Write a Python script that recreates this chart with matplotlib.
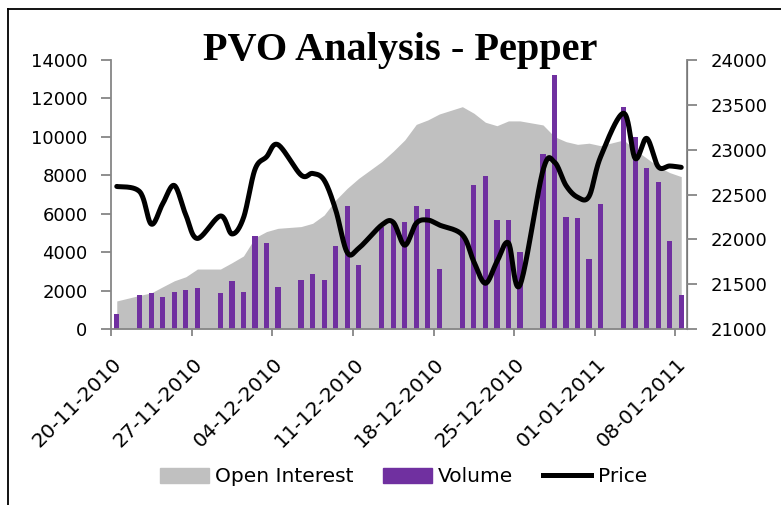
import numpy as np
import pandas as pd
import matplotlib
matplotlib.use("Agg")
import matplotlib.pyplot as plt
import matplotlib.dates as mdates
import matplotlib.transforms as mtransforms
from matplotlib.lines import Line2D
from matplotlib.patches import Patch

# trading days (no Sundays)
dates = pd.to_datetime([
    "20-11-2010", "22-11-2010", "23-11-2010", "24-11-2010", "25-11-2010", "26-11-2010", "27-11-2010",
    "29-11-2010", "30-11-2010", "01-12-2010", "02-12-2010", "03-12-2010", "04-12-2010",
    "06-12-2010", "07-12-2010", "08-12-2010", "09-12-2010", "10-12-2010", "11-12-2010",
    "13-12-2010", "14-12-2010", "15-12-2010", "16-12-2010", "17-12-2010", "18-12-2010",
    "20-12-2010", "21-12-2010", "22-12-2010", "23-12-2010", "24-12-2010", "25-12-2010",
    "27-12-2010", "28-12-2010", "29-12-2010", "30-12-2010", "31-12-2010", "01-01-2011",
    "03-01-2011", "04-01-2011", "05-01-2011", "06-01-2011", "07-01-2011", "08-01-2011",
], format="%d-%m-%Y")

volume = [780, 1770, 1860, 1680, 1940, 2030, 2140,
          1860, 2480, 1940, 4840, 4480, 2200,
          2570, 2860, 2570, 4320, 6400, 3310,
          5300, 5550, 5590, 6400, 6230, 3120,
          4900, 7500, 7950, 5670, 5670, 4020,
          9110, 13220, 5850, 5760, 3660, 6490,
          11570, 10010, 8400, 7650, 4580, 1750]

open_interest = [1460, 1750, 1880, 2200, 2510, 2720, 3120,
                 3120, 3450, 3800, 4750, 5070, 5240,
                 5330, 5500, 5930, 6710, 7320, 7840,
                 8710, 9250, 9840, 10650, 10880, 11190,
                 11570, 11230, 10760, 10580, 10830, 10830,
                 10620, 10010, 9750, 9610, 9670, 9540,
                 9840, 9320, 8890, 8450, 8140, 7930]

price = [22590, 22530, 22170, 22400, 22600, 22270, 22010,
         22260, 22060, 22240, 22780, 22920, 23055,
         22717, 22735, 22660, 22330, 21855, 21900,
         22160, 22190, 21935, 22180, 22215, 22160,
         22050, 21750, 21510, 21750, 21960, 21490,
         22770, 22860, 22600, 22470, 22480, 22920,
         23406, 22903, 23126, 22810, 22818, 22803]


def smooth(x, y, sx=11.5, sy=0.0897, n=24):
    # Excel-like smoothed line (Catmull-Rom bezier in screen-ish units)
    P = np.column_stack([np.asarray(x) * sx, np.asarray(y) * sy])
    out = [P[:1]]
    t = np.linspace(0, 1, n)[1:, None]
    for i in range(len(P) - 1):
        p0 = P[max(i - 1, 0)]
        p1, p2 = P[i], P[i + 1]
        p3 = P[min(i + 2, len(P) - 1)]
        c1 = p1 + (p2 - p0) / 6
        c2 = p2 - (p3 - p1) / 6
        seg = (1 - t) ** 3 * p1 + 3 * (1 - t) ** 2 * t * c1 + 3 * (1 - t) * t ** 2 * c2 + t ** 3 * p2
        out.append(seg)
    out = np.vstack(out)
    return out[:, 0] / sx, out[:, 1] / sy


grey = "#868686"
fig = plt.figure(figsize=(7.81, 5.05), dpi=100)
ax = fig.add_axes([111 / 781, 1 - 329 / 505, 576 / 781, 269 / 505])
ax2 = ax.twinx()

x = mdates.date2num(dates) + 0.5
ax.fill_between(x, open_interest, color="#C0C0C0", lw=0)
ax.bar(x, volume, width=0.45, color="#7030A0")
xs, ys = smooth(x, price)
ax2.plot(xs, ys, color="black", lw=3.6, solid_capstyle="round")

start = mdates.date2num(pd.Timestamp("2010-11-20"))
ax.set_xlim(start, start + 50)
ax.set_ylim(0, 14000)
ax.set_yticks(range(0, 14001, 2000))
ax2.set_ylim(21000, 24000)
ax2.set_yticks(range(21000, 24001, 500))

ticks = start + np.arange(0, 50, 7)
ax.set_xticks(ticks)
ax.set_xticklabels([mdates.num2date(t).strftime("%d-%m-%Y") for t in ticks])

for a in (ax, ax2):
    a.spines["top"].set_visible(False)
ax2.spines["left"].set_visible(False)
ax2.spines["bottom"].set_visible(False)
for s in ("left", "bottom"):
    ax.spines[s].set_color(grey)
    ax.spines[s].set_linewidth(1.3)
ax2.spines["right"].set_color(grey)
ax2.spines["right"].set_linewidth(1.3)

ax.tick_params(axis="y", direction="out", length=7, width=1.3, color=grey, labelsize=13, pad=10)
ax2.tick_params(axis="y", direction="out", length=7, width=1.3, color=grey, labelsize=13, pad=10)
ax.tick_params(axis="x", direction="out", length=5, width=1.3, color=grey, labelsize=14.5, pad=13)

offset = mtransforms.ScaledTranslation(0.01, 0, fig.dpi_scale_trans)
for lbl in ax.get_xticklabels():
    lbl.set_rotation(45)
    lbl.set_ha("right")
    lbl.set_va("top")
    lbl.set_rotation_mode("anchor")
    lbl.set_transform(lbl.get_transform() + offset)

fig.text(400 / 781, 1 - 60 / 505, "PVO Analysis - Pepper", family="Liberation Serif",
         weight="bold", size=29, ha="center", va="baseline")

handles = [Patch(color="#C0C0C0"), Patch(color="#7030A0"), Line2D([], [], color="black", lw=3.6)]
fig.legend(handles, ["Open Interest", "Volume", "Price"], loc="center",
           bbox_to_anchor=(403.5 / 781, 1 - 477 / 505), ncol=3, frameon=False, fontsize=14.5,
           handlelength=2.4, handletextpad=0.3, columnspacing=1.5)

# outer chart border (left and top edges visible)
fig.add_artist(Line2D([8 / 781, 8 / 781], [0, 1 - 9 / 505], transform=fig.transFigure, color="black", lw=1.3))
fig.add_artist(Line2D([8 / 781, 1], [1 - 9 / 505, 1 - 9 / 505], transform=fig.transFigure, color="black", lw=1.3))

fig.savefig("out.png", dpi=100)
